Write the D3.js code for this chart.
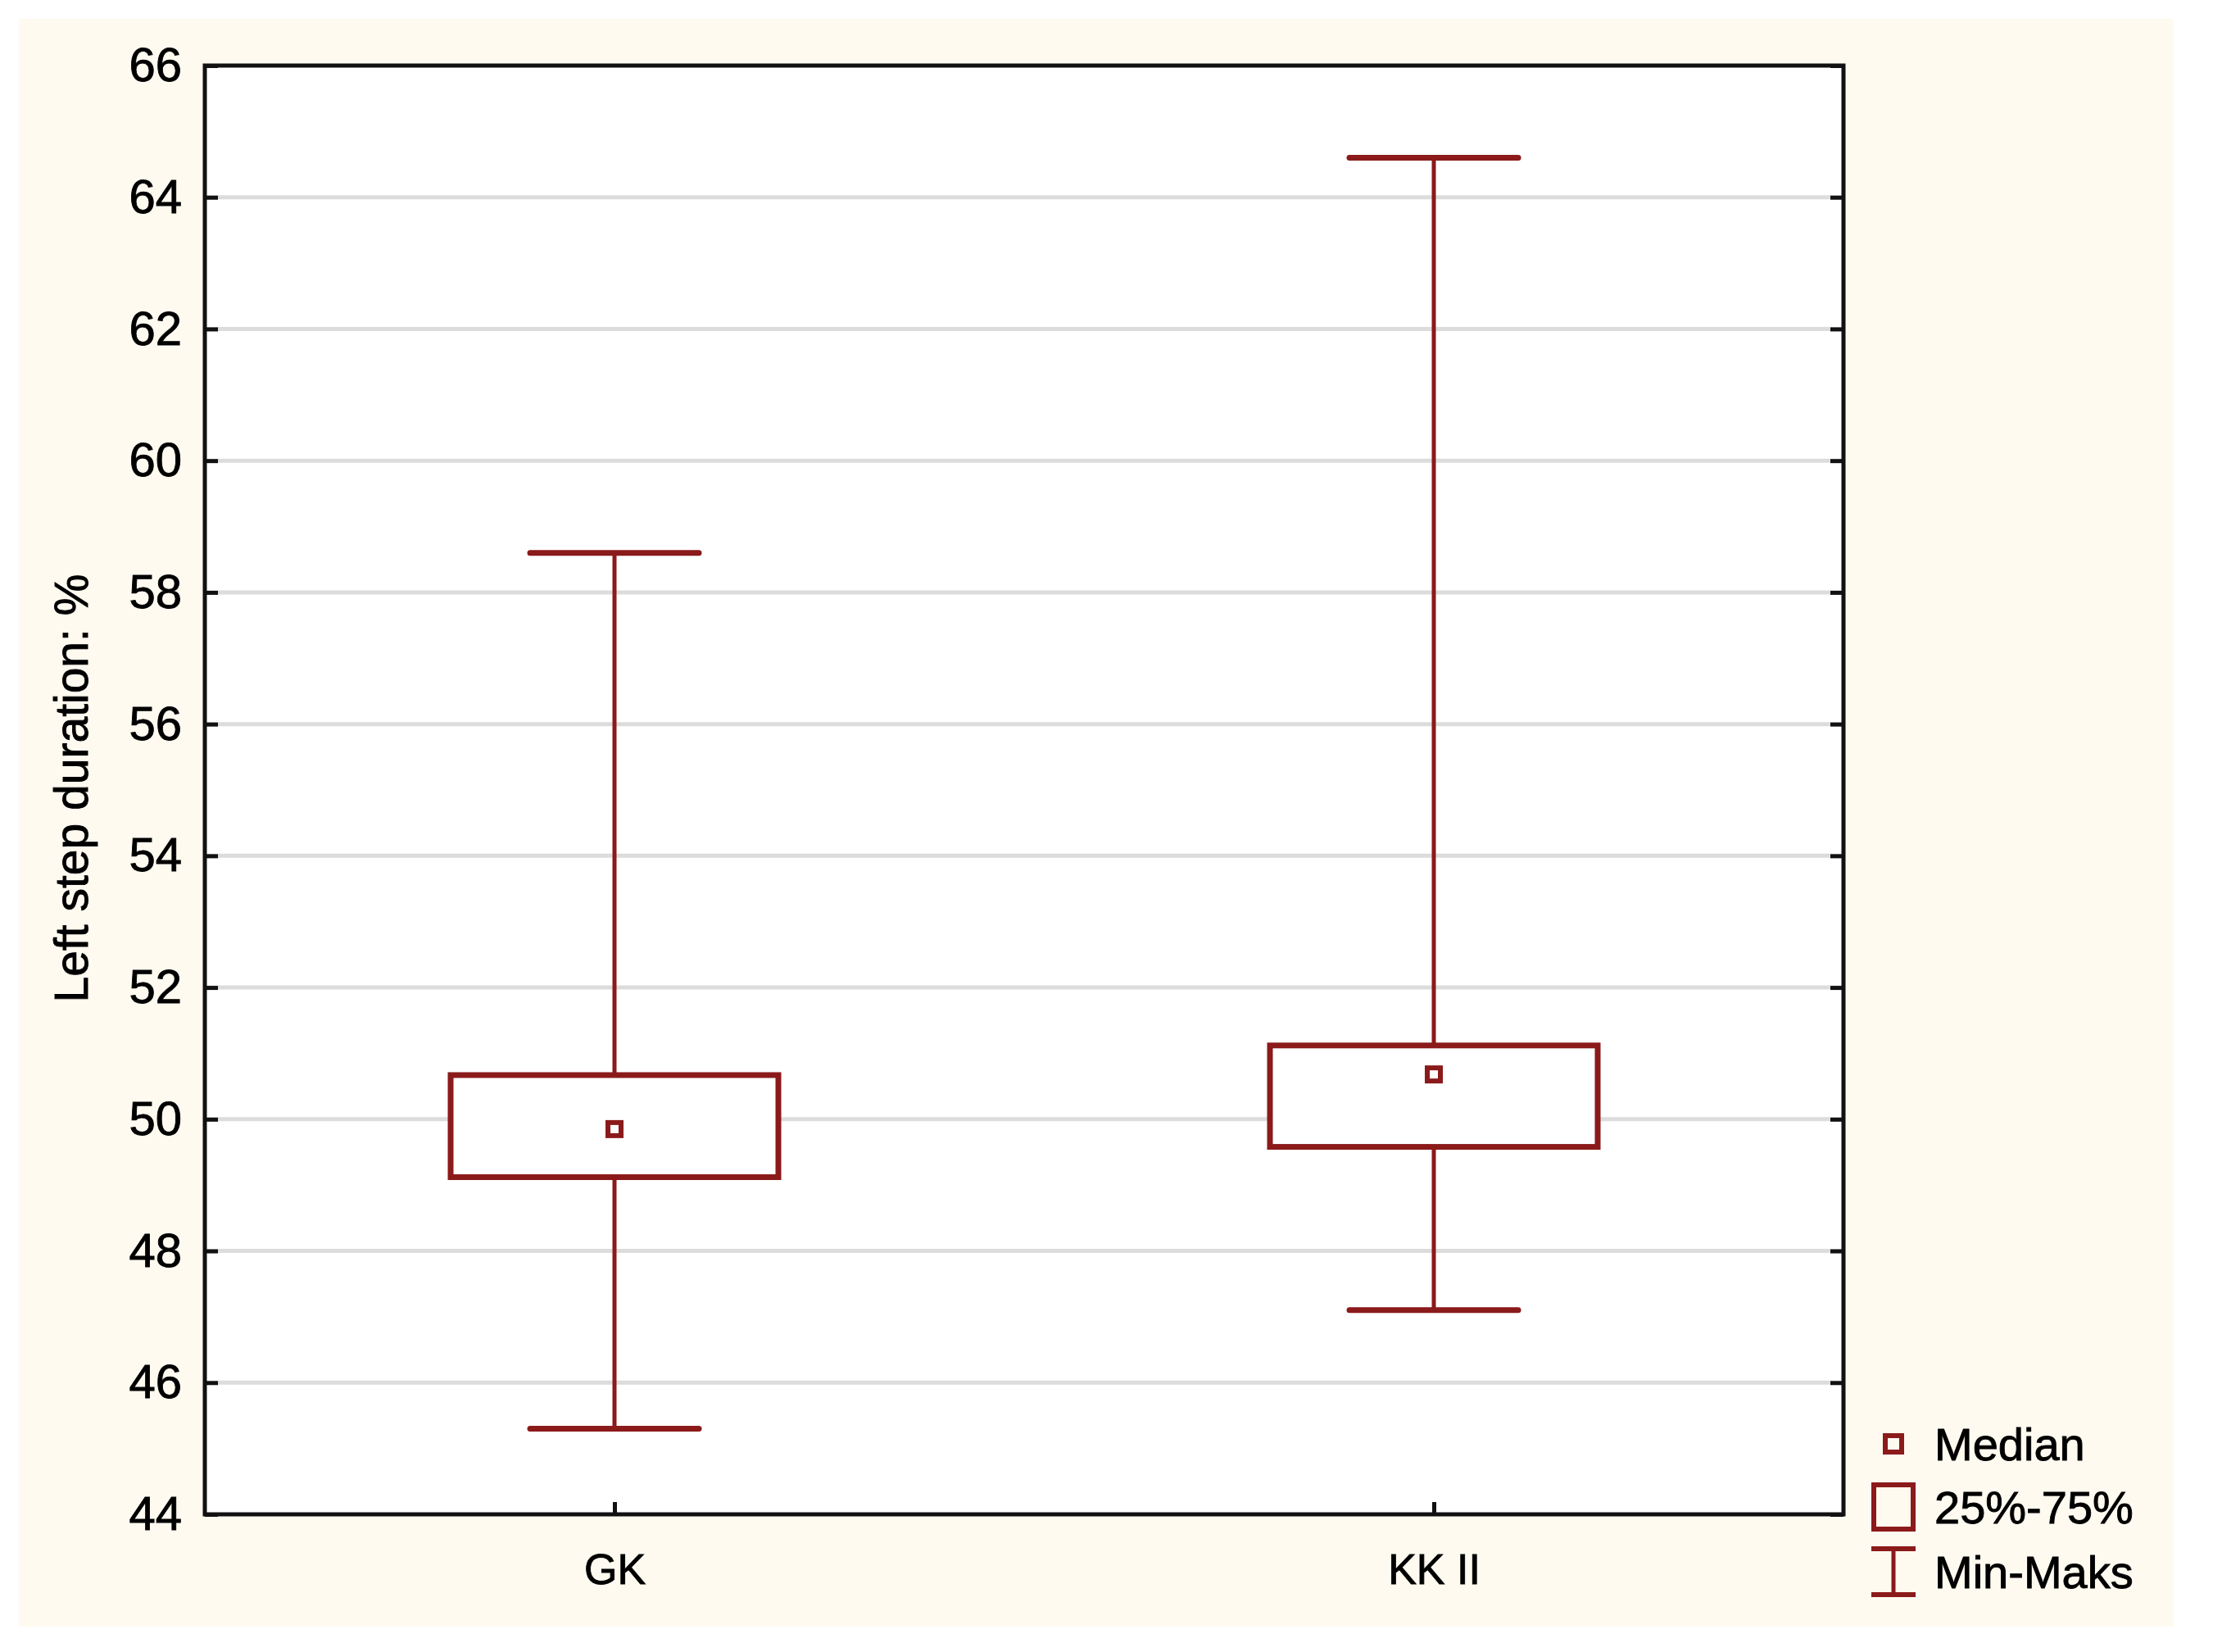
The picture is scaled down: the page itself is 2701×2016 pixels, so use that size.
<!DOCTYPE html>
<html>
<head>
<meta charset="utf-8">
<script src="https://cdn.jsdelivr.net/npm/d3@7"></script>
<style>
  body { margin: 0; background: #ffffff; }
  svg text { font-family: "Liberation Sans", Arial, sans-serif; fill: #000; stroke: #000; stroke-width: 0.9px; }
</style>
</head>
<body>
<svg id="chart" width="2701" height="2016"></svg>
<script>
const groups = ["GK", "KK II"];
const minVals = [45.3, 47.1];
const q1Vals = [49.12, 49.58];
const medianVals = [49.85, 50.68];
const q3Vals = [50.67, 51.12];
const maxVals = [58.6, 64.6];
const yTickValues = [44, 46, 48, 50, 52, 54, 56, 58, 60, 62, 64, 66];
const legendLabels = ["Median", "25%-75%", "Min-Maks"];
const yTitle = "Left step duration: %";

const boxColour = "#8b1a1a";
const gridColour = "#dcdcdc";

const boxes = groups.map((g, i) => ({
    group: g, min: minVals[i], q1: q1Vals[i], median: medianVals[i], q3: q3Vals[i], max: maxVals[i]
}));

const svg = d3.select("#chart");

// cream panel behind everything
svg.append("rect")
    .attr("x", 23).attr("y", 23)
    .attr("width", 2630).attr("height", 1962)
    .attr("fill", "#fefaf0");

const margin = { top: 80, right: 451, bottom: 168, left: 250 };
const width = 2701 - margin.left - margin.right;
const height = 2016 - margin.top - margin.bottom;

const chartArea = svg.append("g")
    .attr("transform", `translate(${margin.left},${margin.top})`);

chartArea.append("rect")
    .attr("width", width).attr("height", height)
    .attr("fill", "#ffffff");

const x = d3.scalePoint()
    .domain(groups)
    .range([0, width])
    .padding(0.5);

const y = d3.scaleLinear()
    .domain([44, 66])
    .range([height, 0]);

// grid lines
chartArea.selectAll(".grid")
    .data(yTickValues.slice(1, -1))
    .join("line")
    .attr("class", "grid")
    .attr("x1", 0).attr("x2", width)
    .attr("y1", d => y(d)).attr("y2", d => y(d))
    .attr("stroke", gridColour)
    .attr("stroke-width", 5);

const styleAxis = g => {
    g.select(".domain").remove();
    g.selectAll(".tick line").attr("stroke", "#111").attr("stroke-width", 5);
};

chartArea.append("g")
    .call(d3.axisLeft(y).tickValues(yTickValues).tickSize(-16).tickPadding(28))
    .call(styleAxis)
    .call(g => g.selectAll("text").attr("font-size", 58).attr("fill", "#000"));

chartArea.append("g")
    .attr("transform", `translate(${width},0)`)
    .call(d3.axisRight(y).tickValues(yTickValues).tickSize(-16).tickFormat(""))
    .call(styleAxis);

chartArea.append("g")
    .attr("transform", `translate(0,${height})`)
    .call(d3.axisBottom(x).tickSize(-15).tickPadding(48))
    .call(styleAxis)
    .call(g => g.selectAll("text").attr("font-size", 52).attr("fill", "#000"));

// boxes
const step = x.step();
const boxHalf = step * 0.2;
const capHalf = step * 0.103;

const boxGroups = chartArea.selectAll(".box")
    .data(boxes)
    .join("g")
    .attr("class", "box")
    .attr("transform", d => `translate(${x(d.group)},0)`);

boxGroups.append("line")
    .attr("y1", d => y(d.max)).attr("y2", d => y(d.q3))
    .attr("stroke", boxColour).attr("stroke-width", 5);

boxGroups.append("line")
    .attr("y1", d => y(d.q1)).attr("y2", d => y(d.min))
    .attr("stroke", boxColour).attr("stroke-width", 5);

boxGroups.selectAll(".cap")
    .data(d => [d.min, d.max])
    .join("line")
    .attr("class", "cap")
    .attr("x1", -capHalf).attr("x2", capHalf)
    .attr("y1", v => y(v)).attr("y2", v => y(v))
    .attr("stroke", boxColour).attr("stroke-width", 7)
    .attr("stroke-linecap", "round");

boxGroups.append("rect")
    .attr("x", -boxHalf)
    .attr("y", d => y(d.q3))
    .attr("width", boxHalf * 2)
    .attr("height", d => y(d.q1) - y(d.q3))
    .attr("fill", "#ffffff")
    .attr("stroke", boxColour).attr("stroke-width", 7);

boxGroups.append("rect")
    .attr("x", -8)
    .attr("y", d => y(d.median) - 8)
    .attr("width", 16).attr("height", 16)
    .attr("fill", "#ffffff")
    .attr("stroke", boxColour).attr("stroke-width", 6);

// frame
chartArea.append("rect")
    .attr("width", width).attr("height", height)
    .attr("fill", "none")
    .attr("stroke", "#111").attr("stroke-width", 5);

// y title
svg.append("text")
    .attr("transform", `translate(107,962) rotate(-90)`)
    .attr("text-anchor", "middle")
    .attr("font-size", 57)
    .text(yTitle);

// legend
const legend = svg.append("g").attr("transform", "translate(2311,0)");
const legendY = [1762, 1839, 1918];

legend.append("rect")
    .attr("x", -10).attr("y", legendY[0] - 10)
    .attr("width", 20).attr("height", 20)
    .attr("fill", "none")
    .attr("stroke", boxColour).attr("stroke-width", 6);

legend.append("rect")
    .attr("x", -24).attr("y", legendY[1] - 27)
    .attr("width", 48).attr("height", 54)
    .attr("fill", "none")
    .attr("stroke", boxColour).attr("stroke-width", 6);

const minMaxLegend = legend.append("g");
minMaxLegend.selectAll("line.h")
    .data([legendY[2] - 28, legendY[2] + 28])
    .join("line")
    .attr("class", "h")
    .attr("x1", -27).attr("x2", 27)
    .attr("y1", d => d).attr("y2", d => d)
    .attr("stroke", boxColour).attr("stroke-width", 6);
minMaxLegend.append("line")
    .attr("y1", legendY[2] - 28).attr("y2", legendY[2] + 28)
    .attr("stroke", boxColour).attr("stroke-width", 5);

legend.selectAll(".legend-label")
    .data(legendLabels)
    .join("text")
    .attr("class", "legend-label")
    .attr("x", 50)
    .attr("y", (_, i) => legendY[i])
    .attr("dy", "0.36em")
    .attr("font-size", 56)
    .text(d => d);
</script>
</body>
</html>
